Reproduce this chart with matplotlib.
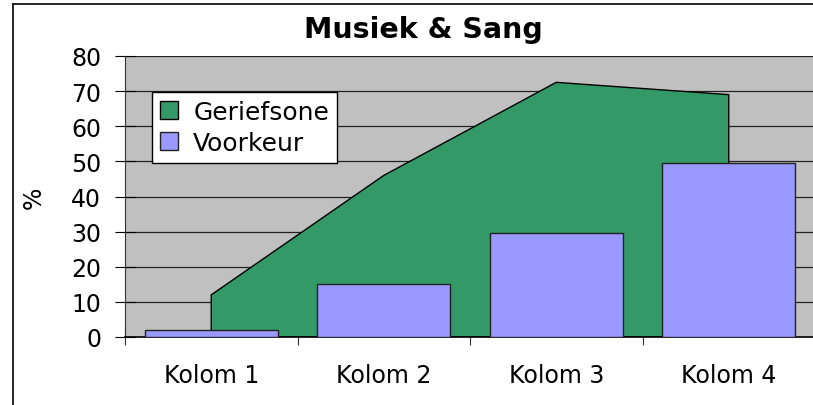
import numpy as np
import matplotlib as mpl
mpl.use('Agg')
import matplotlib.pyplot as plt
from matplotlib.lines import Line2D

mpl.rcParams['font.family'] = 'DejaVu Sans'

# data
categories = ['Kolom 1', 'Kolom 2', 'Kolom 3', 'Kolom 4']
geriefsone = [12, 46, 72.5, 69]
voorkeur = [2, 15, 29.7, 49.5]
yticks = [0, 10, 20, 30, 40, 50, 60, 70, 80]

W, H = 813, 406
fs = 17
fig = plt.figure(figsize=(W / 100, H / 100), dpi=100)

# chart area border (left and top edges visible)
fig.add_artist(Line2D([13 / W, 13 / W], [0, 1 - 5 / H], color='black', lw=1.2))
fig.add_artist(Line2D([13 / W, 1], [1 - 5 / H, 1 - 5 / H], color='black', lw=1.2))

ax = fig.add_axes([125 / W, 68 / H, 690 / W, 281 / H])
ax.set_facecolor('#C0C0C0')

x = np.arange(len(categories))

# area series, drawn between category centres
ax.fill(np.concatenate([[x[0]], x, [x[-1]]]),
        np.concatenate([[0], geriefsone, [0]]),
        facecolor='#339966', edgecolor='black', lw=1, zorder=2,
        label='Geriefsone')

ax.bar(x, voorkeur, width=0.77, color='#9999FF', edgecolor='#222222',
       lw=1, zorder=3, label='Voorkeur')

ax.set_xlim(-0.5, len(categories) - 0.5)
ax.set_ylim(0, 80)
ax.set_yticks(yticks)
ax.yaxis.grid(True, color='#222222', lw=0.9)
ax.set_axisbelow(True)

ax.set_xticks(x)
ax.set_xticklabels(categories)
ax.set_xticks(np.arange(-0.5, len(categories), 1), minor=True)
ax.tick_params(axis='x', which='major', length=0, pad=19, labelsize=fs)
ax.tick_params(axis='x', which='minor', direction='inout', length=12,
               width=0.8, color='#333333')
ax.tick_params(axis='y', direction='inout', length=14.4, width=0.8,
               pad=10, labelsize=fs)

for side in ['top', 'right']:
    ax.spines[side].set_visible(False)
ax.spines['left'].set_color('#333333')
ax.spines['bottom'].set_color('black')
ax.spines['bottom'].set_linewidth(1.2)

ax.set_ylabel('%', fontsize=fs, labelpad=18)

fig.text(423 / W, 1 - 30 / H, 'Musiek & Sang', fontsize=20.5,
         fontweight='bold', ha='center', va='center')

leg = ax.legend(loc='upper left', bbox_to_anchor=(152 / W, 1 - 93 / H),
                bbox_transform=fig.transFigure, fontsize=18,
                fancybox=False, framealpha=1, edgecolor='black',
                handlelength=0.75, handleheight=0.75, handletextpad=0.6,
                borderpad=0.3, labelspacing=0.3, borderaxespad=0)
leg.get_frame().set_linewidth(1)

fig.savefig('out.png', dpi=100)
